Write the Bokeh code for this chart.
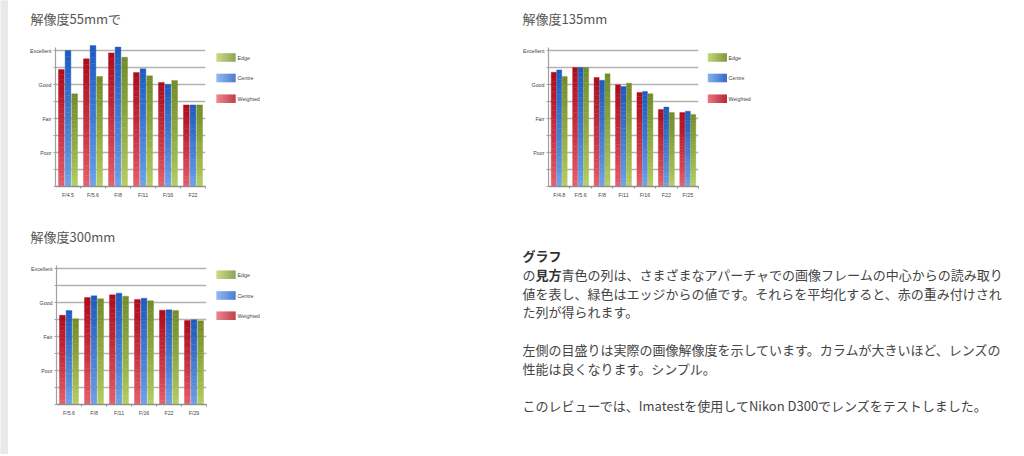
from bokeh.plotting import figure
from bokeh.models import (Range1d, FixedTicker, ColumnDataSource, LinearAxis)
from bokeh.layouts import row, column
from bokeh.embed import file_html
from bokeh.resources import INLINE
from bokeh.core.properties import value

# ---------------- data ----------------
LEVELS = [0, 1, 2, 3, 4, 5, 6, 7, 8]
LABELLED_LEVELS = [2, 4, 6, 8]
LEVEL_LABELS = {2: "Poor", 4: "Fair", 6: "Good", 8: "Excellent"}
SERIES = ["Edge", "Centre", "Weighted"]

title1 = "解像度55mmで"
cats1 = ["F/4.5", "F/5.6", "F/8", "F/11", "F/16", "F22"]
weighted1 = [6.88, 7.51, 7.86, 6.71, 6.12, 4.80]
centre1 = [8.00, 8.29, 8.20, 6.92, 6.00, 4.80]
edge1 = [5.45, 6.47, 7.61, 6.51, 6.24, 4.80]

title2 = "解像度135mm"
cats2 = ["F/4.8", "F/5.6", "F/8", "F/11", "F/16", "F22", "F/25"]
weighted2 = [6.72, 7.00, 6.41, 5.98, 5.53, 4.53, 4.35]
centre2 = [6.86, 7.00, 6.25, 5.88, 5.59, 4.67, 4.43]
edge2 = [6.47, 7.00, 6.63, 6.08, 5.45, 4.35, 4.24]

title3 = "解像度300mm"
cats3 = ["F/5.6", "F/8", "F/11", "F/16", "F22", "F/29"]
weighted3 = [5.25, 6.29, 6.45, 6.18, 5.55, 4.94]
centre3 = [5.53, 6.39, 6.55, 6.25, 5.57, 4.98]
edge3 = [5.04, 6.22, 6.37, 6.10, 5.53, 4.92]

heading = "グラフ"
para1_a = "の"
para1_b = "見方"
para1_c = "青色の列は、さまざまなアパーチャでの画像フレームの中心からの読み取り"
para1_rest = ["値を表し、緑色はエッジからの値です。それらを平均化すると、赤の重み付けされ",
              "た列が得られます。"]
para2 = ["左側の目盛りは実際の画像解像度を示しています。カラムが大きいほど、レンズの",
         "性能は良くなります。シンプル。"]
para3 = ["このレビューでは、Imatestを使用してNikon D300でレンズをテストしました。"]

# ---------------- styles ----------------
CJK = "Noto Sans CJK JP"
SMALL = "Liberation Sans"
SMALL_SIZE = "5.3px"
YMAX = 146 / 17.0
AXIS_GREY = "#8f8f8f"
# (top colour, bottom colour)
GRAD = {
    "Weighted": ((0xae, 0x0c, 0x1b), (0xe8, 0x62, 0x6e)),
    "Centre": ((0x1c, 0x5a, 0xc0), (0x70, 0xa5, 0xec)),
    "Edge": ((0x72, 0x8c, 0x2a), (0xb8, 0xd1, 0x64)),
}


def lerp(c1, c2, t):
    return "#%02x%02x%02x" % tuple(int(round(a + (b - a) * t)) for a, b in zip(c1, c2))


def chart(cats, w, c, e, width, height, left, top, bottom, offset, barw):
    right = width - left - 150
    n = len(cats)
    centers = [i + 0.5 for i in range(n)]  # category slots on the x scale
    p = figure(width=width, height=height,
               x_range=Range1d(0, n), y_range=Range1d(0, YMAX),
               x_axis_location=None,
               output_backend="svg", toolbar_location=None,
               min_border_left=left, min_border_right=right,
               min_border_top=top, min_border_bottom=bottom)
    p.frame_align = False
    p.outline_line_color = None
    p.background_fill_color = "white"
    p.xgrid.visible = False
    p.ygrid.ticker = FixedTicker(ticks=LEVELS[1:])
    p.ygrid.grid_line_color = "#b3b3b3"
    p.ygrid.grid_line_width = 1.3

    N = 24
    for name, vals, off in [("Weighted", w, -offset), ("Centre", c, 0.0), ("Edge", e, offset)]:
        ctop, cbot = GRAD[name]
        xs, bs, ts, cols = [], [], [], []
        for xc, v in zip(centers, vals):
            for i in range(N):
                xs.append(xc + off)
                bs.append(v * i / N)
                ts.append(v * (i + 1) / N)
                t = (i + 0.5) / N
                cols.append(lerp(cbot, ctop, t ** 0.8))
        src = ColumnDataSource(dict(x=xs, bottom=bs, top=ts, color=cols))
        p.vbar(x="x", width=barw, bottom="bottom", top="top",
               fill_color="color", line_color="color", line_width=0.4, source=src)

    p.yaxis.ticker = FixedTicker(ticks=LABELLED_LEVELS,
                                 minor_ticks=[l for l in LEVELS if l not in LABELLED_LEVELS])
    p.yaxis.bounds = (0, 8.15)
    p.yaxis.major_label_overrides = {k: LEVEL_LABELS[k] for k in LABELLED_LEVELS}
    p.yaxis.axis_line_color = "#a0a0a0"
    p.yaxis.axis_line_width = 1.2
    p.yaxis.major_tick_line_color = "#a0a0a0"
    p.yaxis.major_tick_in = 0
    p.yaxis.major_tick_out = 2
    p.yaxis.minor_tick_line_color = "#a0a0a0"
    p.yaxis.minor_tick_in = 0
    p.yaxis.minor_tick_out = 2
    p.yaxis.major_label_standoff = 2
    p.yaxis.major_label_text_font = SMALL
    p.yaxis.major_label_text_font_size = SMALL_SIZE
    p.yaxis.major_label_text_color = "#444444"

    # axis line with small ticks at the group boundaries (minor ticks, no labels)
    tick_axis = LinearAxis(ticker=FixedTicker(ticks=[], minor_ticks=list(range(1, n + 1))),
                           major_label_standoff=0,
                           major_tick_in=0, major_tick_out=0,
                           minor_tick_in=0, minor_tick_out=2,
                           major_tick_line_color=None, minor_tick_line_color=AXIS_GREY,
                           axis_line_color=AXIS_GREY, axis_line_width=1.6)
    p.add_layout(tick_axis, "below")
    # aperture labels centred on each group
    label_axis = LinearAxis(ticker=FixedTicker(ticks=centers),
                            major_label_overrides={xc: cat for xc, cat in zip(centers, cats)},
                            axis_line_color=None, major_tick_line_color=None,
                            minor_tick_line_color=None,
                            major_tick_in=0, major_tick_out=0,
                            minor_tick_in=0, minor_tick_out=0,
                            major_label_standoff=3,
                            major_label_text_font=SMALL,
                            major_label_text_font_size=SMALL_SIZE,
                            major_label_text_color="#444444")
    p.add_layout(label_axis, "below")
    return p


def pixel_fig(width, height, bg="white"):
    f = figure(width=width, height=height, x_range=Range1d(0, width), y_range=Range1d(height, 0),
               x_axis_type=None, y_axis_type=None, output_backend="svg", toolbar_location=None,
               min_border=0, min_border_left=0, min_border_right=0,
               min_border_top=0, min_border_bottom=0)
    f.frame_align = False
    f.grid.visible = False
    f.outline_line_color = None
    f.background_fill_color = bg
    f.border_fill_color = bg
    return f


def title_fig(width, height, text, x, y):
    f = pixel_fig(width, height)
    f.text(x=[x], y=[y], text=[text], text_font=value(CJK), text_font_size="13px",
           text_color="#555555", text_baseline="middle")
    return f


def legend_fig(width, height, x0, ycenters, label_x):
    L = pixel_fig(width, height)
    n = 19
    for name, yc in zip(SERIES, ycenters):
        ctop, cbot = GRAD[name]
        lefts = [x0 + i for i in range(n)]
        rights = [x0 + i + 1.05 for i in range(n)]
        cols = [lerp(cbot, ctop, i / (n - 1)) for i in range(n)]
        L.quad(left=lefts, right=rights, top=[yc - 4.2] * n, bottom=[yc + 4.2] * n,
               fill_color=cols, line_color=None)
    L.text(x=[label_x] * 3, y=ycenters, text=SERIES, text_font=value(SMALL),
           text_font_size=SMALL_SIZE, text_color="#444444", text_baseline="middle")
    return L


strip = pixel_fig(8, 454, bg="#e9e9e9")
strip.quad(left=[0], right=[8], top=[0], bottom=[454], fill_color="#e9e9e9", line_color=None)

t1 = title_fig(492, 30, title1, 22, 18)
fig1 = chart(cats1, weighted1, centre1, edge1, 202, 198, 47, 10, 42, 0.265, 0.23)
leg1 = legend_fig(290, 198, 6, [27.0, 47.5, 68.3], 27)

t2 = title_fig(516, 30, title2, 22, 18)
fig2 = chart(cats2, weighted2, centre2, edge2, 200, 198, 48, 10, 42, 0.255, 0.235)
leg2 = legend_fig(316, 198, 7.3, [27.0, 47.5, 68.3], 28)

t3 = title_fig(492, 20, title3, 22, 8)
fig3 = chart(cats3, weighted3, centre3, edge3, 202, 206, 48, 10, 50, 0.265, 0.23)
leg3 = legend_fig(290, 206, 6, [26.2, 47.0, 67.3], 27)

tf = pixel_fig(516, 226)
TX = 22
LH = 18.8
Y0 = 27
body_color = "#444444"
tf.text(x=[TX], y=[Y0], text=[heading], text_font=value(CJK), text_font_size="13px",
        text_font_style="bold", text_color="#333333", text_baseline="middle")
tf.text(x=[TX], y=[Y0 + LH], text=[para1_a], text_font=value(CJK), text_font_size="13px",
        text_color=body_color, text_baseline="middle")
tf.text(x=[TX + 13], y=[Y0 + LH], text=[para1_b], text_font=value(CJK), text_font_size="13px",
        text_font_style="bold", text_color="#333333", text_baseline="middle")
tf.text(x=[TX + 39], y=[Y0 + LH], text=[para1_c], text_font=value(CJK), text_font_size="13px",
        text_color=body_color, text_baseline="middle")
lines = para1_rest + [""] + para2 + [""] + para3
ys = [Y0 + LH * (2 + i) for i in range(len(lines))]
keep = [(t, y) for t, y in zip(lines, ys) if t]
tf.text(x=[TX] * len(keep), y=[y for _, y in keep], text=[t for t, _ in keep],
        text_font=value(CJK), text_font_size="13px", text_color=body_color, text_baseline="middle")

q1 = column(t1, row(fig1, leg1))
q2 = column(t2, row(fig2, leg2))
q3 = column(t3, row(fig3, leg3))
main = column(row(q1, q2), row(q3, tf))
layout = row(strip, main)

open("out.html", "w").write(file_html(layout, INLINE))
